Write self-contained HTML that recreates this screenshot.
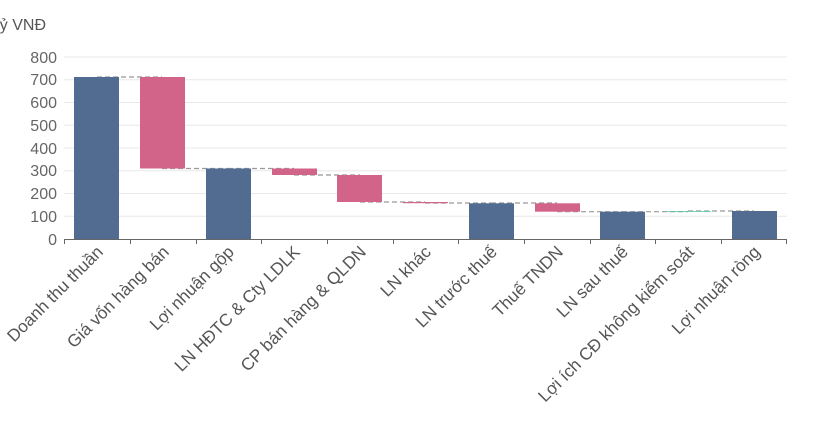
<!DOCTYPE html>
<html><head><meta charset="utf-8"><style>body{margin:0;background:#fff}svg{display:block}</style></head><body>
<svg width="820" height="423" xmlns="http://www.w3.org/2000/svg" font-family="Liberation Sans, sans-serif">
<text x="-10" y="30" font-size="16" fill="#555">Tỷ VNĐ</text>
<g stroke="#e8e8e8" stroke-width="1">
<line x1="64" x2="787" y1="57" y2="57"/><line x1="64" x2="787" y1="79.75" y2="79.75"/><line x1="64" x2="787" y1="102.5" y2="102.5"/><line x1="64" x2="787" y1="125.25" y2="125.25"/><line x1="64" x2="787" y1="148" y2="148"/><line x1="64" x2="787" y1="170.75" y2="170.75"/><line x1="64" x2="787" y1="193.5" y2="193.5"/><line x1="64" x2="787" y1="216.25" y2="216.25"/>
</g>
<g font-size="16" fill="#666" text-anchor="end">
<text x="57" y="63">800</text><text x="57" y="85">700</text><text x="57" y="108">600</text><text x="57" y="131">500</text><text x="57" y="154">400</text><text x="57" y="176">300</text><text x="57" y="199">200</text><text x="57" y="222">100</text><text x="57" y="245">0</text>
</g>
<g stroke="#999" stroke-dasharray="5,3" stroke-width="1.2">
<line x1="97" x2="162" y1="77" y2="77"/><line x1="162" x2="228" y1="168.5" y2="168.5"/><line x1="228" x2="294" y1="168.5" y2="168.5"/><line x1="294" x2="360" y1="175" y2="175"/><line x1="360" x2="425" y1="202" y2="202"/><line x1="425" x2="491" y1="203" y2="203"/><line x1="491" x2="557" y1="203" y2="203"/><line x1="557" x2="622" y1="211.7" y2="211.7"/><line x1="622" x2="688" y1="211.7" y2="211.7"/><line x1="688" x2="754" y1="211" y2="211"/>
</g>
<g fill="#516b91">
<rect x="74" y="77" width="45" height="162"/><rect x="206" y="168.5" width="45" height="70.5"/><rect x="469" y="203.3" width="45" height="35.7"/><rect x="600" y="211.7" width="45" height="27.3"/><rect x="732" y="211" width="45" height="28"/>
</g>
<g fill="#d2648a">
<rect x="140" y="77" width="45" height="91.5"/><rect x="272" y="168.5" width="45" height="6.5"/><rect x="337" y="175" width="45" height="27"/><rect x="403" y="202" width="45" height="1.2"/><rect x="535" y="203.3" width="45" height="8.4"/>
</g>
<rect x="666" y="211" width="45" height="0.8" fill="#59c4a6"/>
<g stroke="#666" stroke-width="1">
<line x1="64" x2="787" y1="239.5" y2="239.5"/>
<line x1="64.5" x2="64.5" y1="239" y2="244"/><line x1="130.5" x2="130.5" y1="239" y2="244"/><line x1="196.5" x2="196.5" y1="239" y2="244"/><line x1="261.5" x2="261.5" y1="239" y2="244"/><line x1="327.5" x2="327.5" y1="239" y2="244"/><line x1="393.5" x2="393.5" y1="239" y2="244"/><line x1="458.5" x2="458.5" y1="239" y2="244"/><line x1="524.5" x2="524.5" y1="239" y2="244"/><line x1="590.5" x2="590.5" y1="239" y2="244"/><line x1="655.5" x2="655.5" y1="239" y2="244"/><line x1="721.5" x2="721.5" y1="239" y2="244"/><line x1="786.5" x2="786.5" y1="239" y2="244"/>
</g>
<g font-size="17.2" fill="#555" text-anchor="end">
<text transform="translate(104,253) rotate(-45)">Doanh thu thuần</text>
<text transform="translate(170,253) rotate(-45)">Giá vốn hàng bán</text>
<text transform="translate(235,253) rotate(-45)">Lợi nhuận gộp</text>
<text transform="translate(301,253) rotate(-45)">LN HĐTC &amp; Cty LDLK</text>
<text transform="translate(367,253) rotate(-45)">CP bán hàng &amp; QLDN</text>
<text transform="translate(432,253) rotate(-45)">LN khác</text>
<text transform="translate(498,253) rotate(-45)">LN trước thuế</text>
<text transform="translate(564,253) rotate(-45)">Thuế TNDN</text>
<text transform="translate(629,253) rotate(-45)">LN sau thuế</text>
<text transform="translate(695,253) rotate(-45)">Lợi ích CĐ không kiểm soát</text>
<text transform="translate(761,253) rotate(-45)">Lợi nhuận ròng</text>
</g>
</svg>
</body></html>
